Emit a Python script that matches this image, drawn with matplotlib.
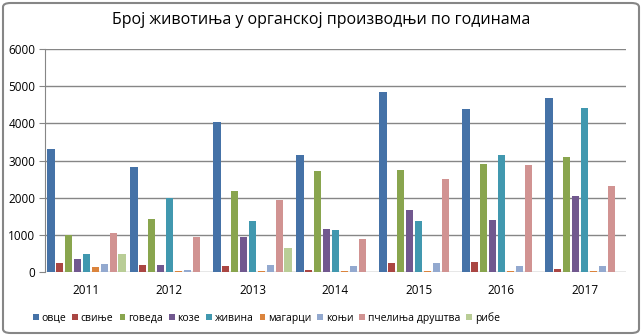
import numpy as np
import matplotlib.pyplot as plt
from matplotlib.patches import FancyBboxPatch

plt.rcParams['font.family'] = ['Open Sans', 'DejaVu Sans']

years = ['2011', '2012', '2013', '2014', '2015', '2016', '2017']

ovce = [3300, 2820, 4030, 3140, 4840, 4380, 4680]
svinje = [240, 190, 170, 60, 230, 270, 90]
goveda = [1000, 1430, 2180, 2710, 2740, 2900, 3090]
koze = [350, 190, 940, 1150, 1670, 1400, 2040]
zivina = [480, 2000, 1370, 1130, 1370, 3140, 4410]
magarci = [130, 30, 30, 30, 30, 30, 30]
konji = [220, 60, 200, 160, 230, 170, 170]
pcelinja = [1050, 950, 1935, 890, 2500, 2870, 2320]
ribe = [490, 0, 640, 0, 0, 0, 0]

series = [ovce, svinje, goveda, koze, zivina, magarci, konji, pcelinja, ribe]
names = ['овце', 'свиње', 'говеда', 'козе', 'живина', 'магарци', 'коњи',
         'пчелиња друштва', 'рибе']
colors = ['#4572A7', '#AA4643', '#89A54E', '#71588F', '#4198AF',
          '#DB843D', '#93A9CF', '#D19392', '#B9CD96']

fig = plt.figure(figsize=(6.42, 3.36), dpi=100)
ax = fig.add_axes([45/642, 1 - 272/336, 581/642, 223/336])

x = np.arange(len(years))
pitch = 0.107
width = 0.085
for i, (vals, name, col) in enumerate(zip(series, names, colors)):
    ax.bar(x + (i - 4) * pitch, vals, width, color=col, label=name, zorder=3)

ax.set_xlim(-0.5, len(years) - 0.5)
ax.set_ylim(0, 6000)
ax.set_yticks(range(0, 6001, 1000))
ax.set_xticks(x)
ax.set_xticklabels(years)
ax.grid(axis='y', color='#868686', linewidth=1, zorder=0)
for s in ['top', 'right', 'bottom']:
    ax.spines[s].set_visible(False)
ax.spines['left'].set_color('#868686')
ax.tick_params(axis='y', length=4, color='#868686', labelsize=8.5, pad=3)
ax.tick_params(axis='x', length=0, labelsize=8.5, pad=9)

fig.text(0.5, 1 - 20/336, 'Број животиња у органској производњи по годинама',
         ha='center', va='center', fontsize=11.5)

leg = fig.legend(loc='center left', bbox_to_anchor=(33/642, 1 - 318/336), ncol=9,
                 frameon=False, fontsize=7.5, handlelength=0.55, handleheight=0.55,
                 handletextpad=0.25, columnspacing=0.6, borderpad=0, borderaxespad=0)

border = FancyBboxPatch((3/642, 3/336), 636/642, 330/336,
                        boxstyle='round,pad=0,rounding_size=0.012',
                        transform=fig.transFigure, fill=False,
                        edgecolor='#868686', linewidth=1.5)
fig.patches.append(border)

fig.savefig('out.png', dpi=100)
